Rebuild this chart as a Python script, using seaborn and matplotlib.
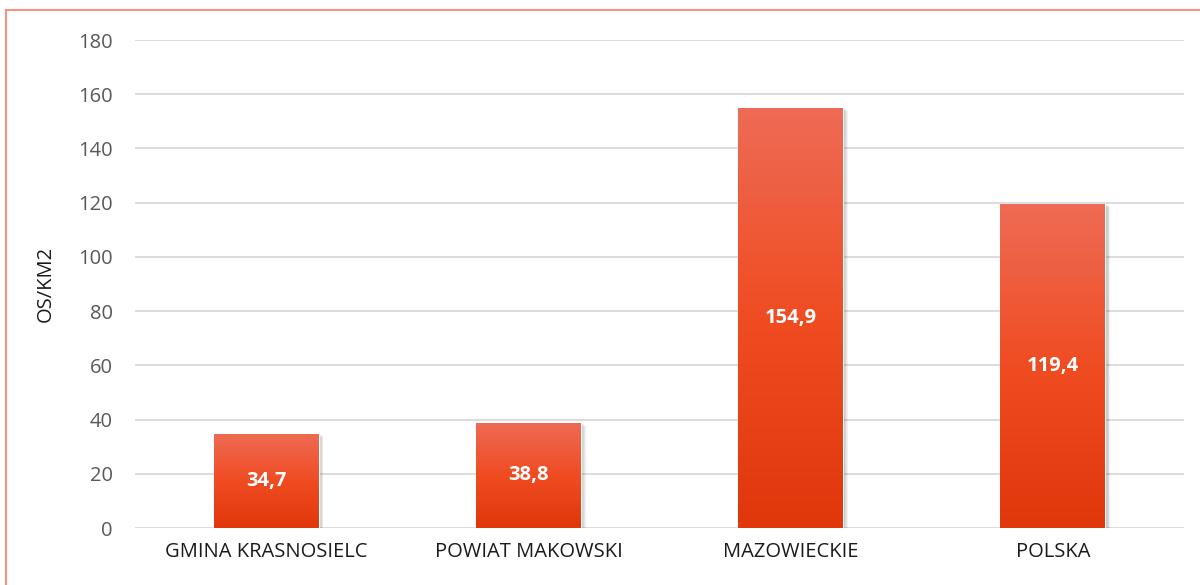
import numpy as np
import pandas as pd
import matplotlib
matplotlib.use("Agg")
import matplotlib.pyplot as plt
import seaborn as sns
from matplotlib.colors import LinearSegmentedColormap
from matplotlib.patches import Rectangle

categories = ["GMINA KRASNOSIELC", "POWIAT MAKOWSKI", "MAZOWIECKIE", "POLSKA"]
values = [34.7, 38.8, 154.9, 119.4]
labels = ["34,7", "38,8", "154,9", "119,4"]
yticks = [0, 20, 40, 60, 80, 100, 120, 140, 160, 180]
ylabel = "OS/KM2"

sns.set_theme(style="white")
plt.rcParams["font.family"] = ["Open Sans", "DejaVu Sans"]

df = pd.DataFrame({"cat": categories, "val": values})

fig = plt.figure(figsize=(12, 5.85), dpi=100)
ax = fig.add_axes([0.1125, 0.0974, 0.8742, 0.8342])

sns.barplot(data=df, x="cat", y="val", ax=ax, width=0.4, color="#EE4B1E",
            saturation=1, zorder=3)

ax.set_ylim(0, 180)
ax.set_xlim(-0.5, 3.5)
ax.set_yticks(yticks)
ax.set_yticklabels([str(t) for t in yticks], color="#595959", fontsize=14.5)
ax.tick_params(axis="y", length=0, pad=16)
ax.tick_params(axis="x", length=0, pad=10, labelsize=14.5, labelcolor="#1a1a1a")
ax.set_xlabel("")
ax.set_ylabel(ylabel, fontsize=14.5, color="#1a1a1a", labelpad=16)
for t in yticks:
    ax.axhline(t, color="#D9D9D9", lw=1.3, zorder=1)
for s in ax.spines.values():
    s.set_visible(False)

cmap = LinearSegmentedColormap.from_list("g", ["#E0370B", "#F04C22", "#EE6B55"])
grad = np.linspace(0, 1, 256).reshape(-1, 1)
for i, p in enumerate(ax.patches):
    x0, y0 = p.get_x(), p.get_y()
    w, h = p.get_width(), p.get_height()
    for k in range(5):
        sh = Rectangle((x0 + 0.006 + k * 0.003, y0), w, h - 0.25 * k,
                       facecolor="black", alpha=0.05, edgecolor="none", zorder=2)
        ax.add_patch(sh)
    im = ax.imshow(grad, extent=[x0, x0 + w, y0, y0 + h], origin="lower",
                   cmap=cmap, aspect="auto", zorder=4)
    im.set_clip_path(p)
    ax.text(x0 + w / 2, y0 + h / 2, labels[i], ha="center", va="center",
            color="white", fontsize=14.5, fontweight="bold", zorder=5)
ax.set_xlim(-0.5, 3.5)
ax.set_ylim(0, 180)

fig.patches.append(Rectangle((5.5 / 1200, -0.05), 1.2, 1 - 9.5 / 585 + 0.05,
                             transform=fig.transFigure, fill=False,
                             edgecolor="#F2957D", lw=1.5, zorder=0))

fig.savefig("out.png", dpi=100)
